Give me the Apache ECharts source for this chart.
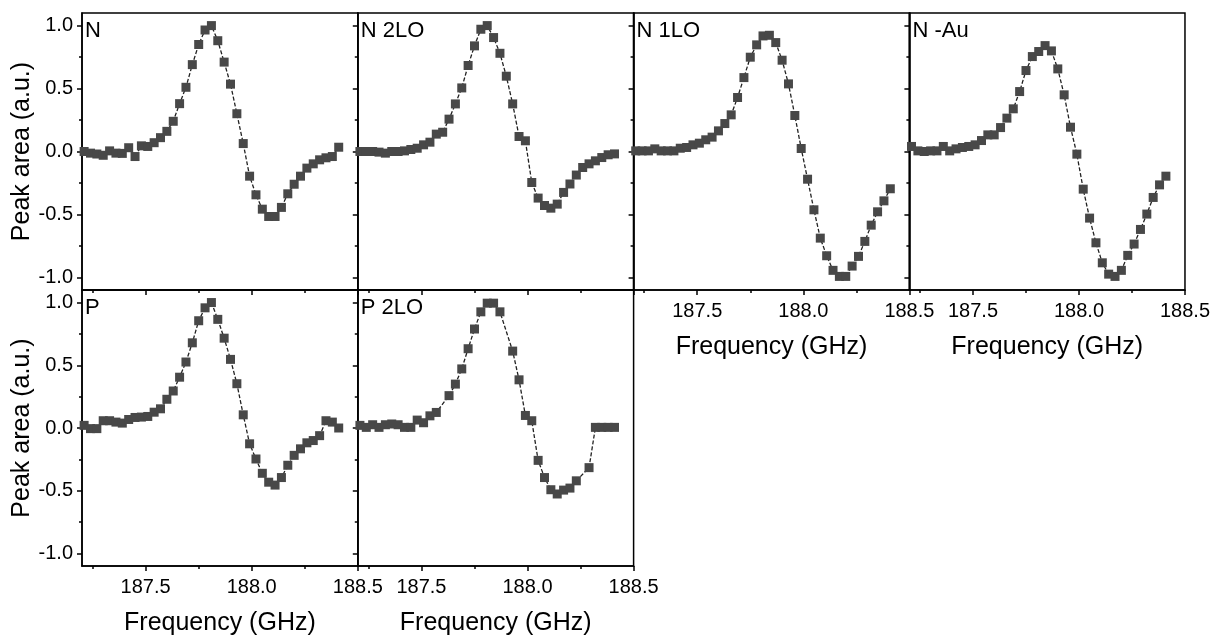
<!DOCTYPE html>
<html>
<head>
<meta charset="utf-8">
<script src="https://cdn.jsdelivr.net/npm/echarts@6/dist/echarts.min.js"></script>
<style>
html,body{margin:0;padding:0;background:#fff;}
#chart{width:1213px;height:637px;}
</style>
</head>
<body>
<div id="chart"></div>
<script>
// ---- data ----
const freq = [187.21,187.24,187.27,187.30,187.33,187.36,187.39,187.42,187.45,187.48,
  187.51,187.54,187.57,187.60,187.63,187.66,187.69,187.72,187.75,187.78,
  187.81,187.84,187.87,187.90,187.93,187.96,187.99,188.02,188.05,188.08,
  188.11,188.14,188.17,188.20,188.23,188.26,188.29,188.32,188.35,188.38,188.41];

const panelNames = ["N", "N 2LO", "N 1LO", "N -Au", "P", "P 2LO"];

const valsN = [0.00,-0.013,-0.02,-0.03,0.005,-0.013,-0.015,0.03,-0.04,0.045,
  0.04,0.07,0.11,0.16,0.24,0.38,0.51,0.69,0.85,0.965,
  1.0,0.88,0.71,0.535,0.30,0.063,-0.196,-0.344,-0.458,-0.516,
  -0.516,-0.444,-0.336,-0.26,-0.196,-0.132,-0.098,-0.066,-0.05,-0.04,0.034];

const valsN2LO = [0,0,0,-0.005,-0.013,0,0,0.005,0.016,0.026,
  0.053,0.074,0.138,0.153,0.257,0.378,0.505,0.683,0.839,0.971,
  1.0,0.905,0.78,0.598,0.378,0.119,0.085,-0.246,-0.37,-0.429,
  -0.45,-0.418,-0.325,-0.258,-0.187,-0.127,-0.098,-0.074,-0.048,-0.026,-0.019];

const valsN1LO = [0.005,0.005,0.005,0.021,0.005,0.005,0.005,0.026,0.032,0.053,
  0.066,0.093,0.114,0.164,0.222,0.291,0.429,0.587,0.749,0.847,
  0.918,0.923,0.865,0.725,0.537,0.286,0.024,-0.22,-0.463,-0.688,
  -0.828,-0.944,-0.992,-0.992,-0.910,-0.833,-0.714,-0.585,-0.479,-0.392,-0.296];

const valsNAu = [0.04,0.005,0,0.005,0.005,0.04,0.005,0.021,0.032,0.04,
  0.053,0.087,0.132,0.132,0.19,0.265,0.339,0.476,0.643,0.754,
  0.794,0.841,0.799,0.656,0.450,0.193,-0.021,-0.299,-0.529,-0.725,
  -0.884,-0.974,-0.992,-0.944,-0.825,-0.735,-0.619,-0.497,-0.365,-0.265,-0.196];

const valsP = [0.021,-0.005,-0.005,0.058,0.058,0.047,0.039,0.068,0.084,0.087,
  0.092,0.126,0.153,0.229,0.295,0.405,0.526,0.679,0.855,0.958,
  1.0,0.866,0.716,0.547,0.353,0.105,-0.126,-0.247,-0.361,-0.432,
  -0.455,-0.395,-0.297,-0.218,-0.166,-0.118,-0.1,-0.061,0.058,0.047,0.0];

const valsP2LO = [0.021,0.005,0.026,0.005,0.026,0.032,0.026,0.005,0.005,0.063,
  0.042,0.097,0.124,null,0.258,0.35,0.471,0.632,0.789,0.926,
  0.995,0.995,0.926,null,0.613,0.384,0.1,0.058,-0.258,-0.395,
  -0.492,-0.526,-0.495,-0.479,-0.421,null,-0.316,0.005,0.005,0.005,0.005];

const xMajorTicks = [187.5, 188.0, 188.5];
const xMinorTicks = [187.25, 187.75, 188.25];
const yMajorTicks = [-1.0, -0.5, 0.0, 0.5, 1.0];
const yMinorTicks = [-0.75, -0.25, 0.25, 0.75];
const xTitle = "Frequency (GHz)";
const yTitle = "Peak area (a.u.)";

// ---- layout ----
const allVals = [valsN, valsN2LO, valsN1LO, valsNAu, valsP, valsP2LO];
const colLeft = [82, 357.8, 633.6, 909.4];
const colW = 275.8;
const rowTop = [13, 290];
const rowH = [277, 276];
const panelPos = [[0,0],[0,1],[0,2],[0,3],[1,0],[1,1]];
const showXLabels = [false, false, true, true, true, true];
const FONT = "'Liberation Sans', Arial, sans-serif";

const grids = [], xAxes = [], yAxes = [], series = [], titles = [];
panelPos.forEach(([r, c], i) => {
  grids.push({left: colLeft[c], top: rowTop[r], width: colW, height: rowH[r],
    show: true, borderColor: '#000', borderWidth: 1.5, backgroundColor: 'transparent'});
  const showY = c === 0;
  xAxes.push({type: 'value', gridIndex: i, min: 187.2, max: 188.5, position: 'bottom',
    axisLine: {show: true, onZero: false, lineStyle: {color: '#000', width: 1.5}},
    axisTick: {show: true, inside: false, length: 5, lineStyle: {color: '#000', width: 1.5}, customValues: xMajorTicks},
    axisLabel: {show: showXLabels[i], customValues: xMajorTicks, margin: 11,
      formatter: v => v.toFixed(1), color: '#000', fontSize: 20, fontFamily: FONT},
    splitLine: {show: false},
    name: showXLabels[i] ? xTitle : '', nameLocation: 'middle', nameGap: 45,
    nameTextStyle: {fontSize: 25, color: '#000', fontFamily: FONT}
  });
  xAxes.push({type: 'value', gridIndex: i, min: 187.2, max: 188.5, position: 'bottom', offset: 0,
    axisLine: {show: false, onZero: false},
    axisTick: {show: true, inside: false, length: 3, lineStyle: {color: '#000', width: 1.5}, customValues: xMinorTicks},
    axisLabel: {show: false}, splitLine: {show: false}
  });
  yAxes.push({type: 'value', gridIndex: i, min: -1.1, max: 1.1, position: 'left',
    axisLine: {show: true, onZero: false, lineStyle: {color: '#000', width: 1.5}},
    axisTick: {show: true, inside: false, length: 5, lineStyle: {color: '#000', width: 1.5}, customValues: yMajorTicks},
    axisLabel: {show: showY, customValues: yMajorTicks, margin: 9,
      formatter: v => v.toFixed(1), color: '#000', fontSize: 20, fontFamily: FONT},
    splitLine: {show: false},
    name: showY ? yTitle : '', nameLocation: 'middle', nameGap: 44,
    nameTextStyle: {fontSize: 25, color: '#000', fontFamily: FONT}
  });
  yAxes.push({type: 'value', gridIndex: i, min: -1.1, max: 1.1, position: 'left', offset: 0,
    axisLine: {show: false, onZero: false},
    axisTick: {show: true, inside: false, length: 3, lineStyle: {color: '#000', width: 1.5}, customValues: yMinorTicks},
    axisLabel: {show: false}, splitLine: {show: false}
  });
  const pts = [];
  allVals[i].forEach((v, k) => { if (v !== null) pts.push([freq[k], v]); });
  series.push({type: 'line', xAxisIndex: 2*i, yAxisIndex: 2*i, data: pts,
    symbol: 'rect', symbolSize: 9, showSymbol: true,
    itemStyle: {color: '#484848'},
    lineStyle: {color: '#222', width: 1.3, type: [4, 2]},
    emphasis: {disabled: true}, z: 3
  });
  titles.push({text: panelNames[i], left: colLeft[c] + 3, top: rowTop[r] + 7,
    padding: 0, textStyle: {fontSize: 22, fontWeight: 'normal', color: '#000', fontFamily: FONT}});
});

const chart = echarts.init(document.getElementById('chart'), null, {renderer: 'canvas'});
chart.setOption({
  animation: false,
  backgroundColor: '#fff',
  title: titles,
  grid: grids,
  xAxis: xAxes,
  yAxis: yAxes,
  series: series
});
</script>
</body>
</html>
